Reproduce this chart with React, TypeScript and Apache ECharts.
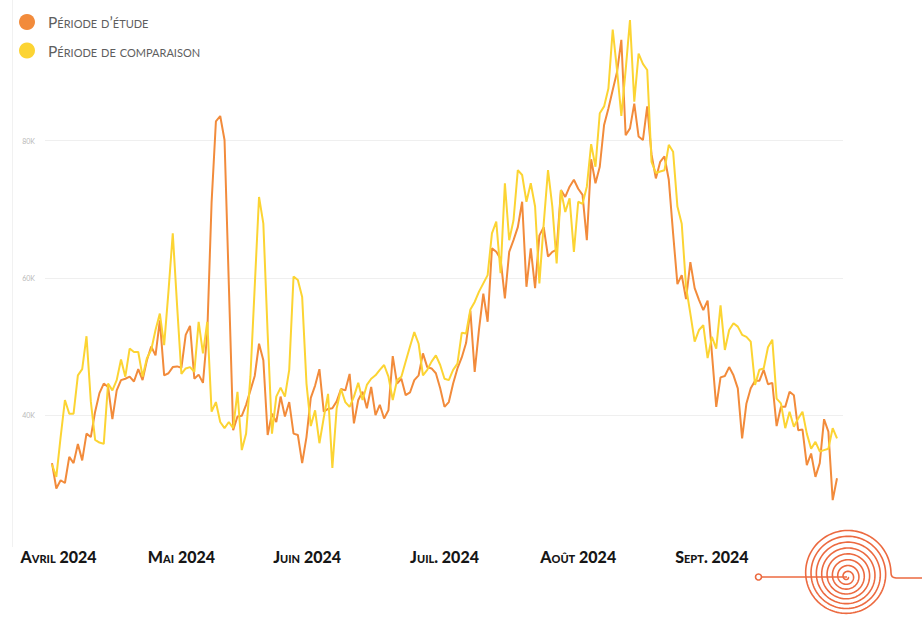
import React, { useEffect, useRef } from 'react';
import * as echarts from 'echarts';

// ---- Data (values in thousands) ----
const monthLabels = ['Avril 2024', 'Mai 2024', 'Juin 2024', 'Juil. 2024', 'Août 2024', 'Sept. 2024'];
const yTickLabels = [40, 60, 80];
const seriesNames = ['Période d’étude', 'Période de comparaison'];

const studyValues = [
  33.0, 29.3, 30.5, 30.1, 33.9, 33.0, 35.8, 33.4, 37.3, 36.8,
  40.5, 43.2, 44.6, 44.1, 39.4, 43.6, 45.1, 45.3, 45.6, 44.9,
  46.7, 45.1, 48.0, 50.0, 48.7, 53.8, 45.8, 46.1, 47.0, 47.1,
  46.9, 51.7, 53.0, 45.3, 45.9, 44.7, 52.0, 71.0, 82.8, 83.6,
  80.1, 59.0, 37.8, 39.8, 39.9, 41.5, 43.6, 45.7, 50.4, 48.0,
  37.1, 40.2, 39.0, 42.7, 39.8, 41.9, 37.3, 37.1, 33.0, 36.8,
  42.5, 44.3, 46.7, 40.5, 40.9, 41.0, 42.0, 43.8, 43.6, 46.0,
  38.8, 42.2, 43.4, 41.0, 44.1, 40.0, 41.5, 39.5, 40.7, 48.6,
  44.6, 45.3, 42.9, 43.3, 45.1, 45.8, 49.0, 47.0, 46.8, 46.1,
  43.9, 41.2, 41.9, 44.6, 46.8, 48.4, 50.5, 55.2, 46.3, 52.5,
  57.7, 53.6, 64.3, 63.8, 62.8, 57.0, 63.8, 65.5, 67.4, 71.1,
  58.7, 64.3, 58.5, 66.2, 67.4, 63.1, 63.8, 64.1, 72.8, 71.8,
  73.3, 74.3, 73.0, 72.1, 65.5, 77.3, 73.8, 76.2, 82.3, 84.7,
  87.4, 90.0, 94.7, 80.8, 81.8, 85.4, 80.6, 80.1, 85.0, 78.0,
  74.5, 76.9, 77.7, 74.3, 66.5, 59.1, 60.4, 56.9, 62.3, 58.5,
  56.8, 55.3, 56.7, 49.0, 41.2, 45.5, 45.7, 47.0, 45.8, 43.9,
  36.6, 41.7, 43.9, 45.0, 45.0, 46.6, 44.5, 44.7, 38.4, 41.2,
  41.2, 43.4, 42.9, 37.8, 37.9, 32.7, 34.4, 31.0, 33.0, 39.4,
  37.6, 27.6, 30.8,
];

const comparisonValues = [
  32.8, 31.0, 36.8, 42.2, 40.2, 40.2, 45.8, 46.7, 51.5, 42.0,
  36.4, 36.0, 35.8, 44.6, 43.6, 45.1, 48.1, 45.6, 49.7, 49.2,
  49.2, 45.6, 48.3, 49.5, 52.4, 54.8, 50.2, 58.0, 66.5, 56.0,
  46.0, 46.8, 47.0, 46.3, 53.6, 49.0, 53.6, 40.5, 41.9, 39.0,
  38.1, 39.0, 38.1, 43.4, 34.9, 37.3, 45.6, 58.7, 71.8, 67.9,
  51.9, 37.3, 42.7, 44.0, 42.7, 46.6, 60.2, 59.7, 57.2, 44.6,
  38.4, 40.7, 35.9, 39.6, 43.1, 32.3, 41.0, 43.8, 41.9, 41.2,
  42.7, 44.7, 42.2, 44.4, 45.3, 45.8, 46.6, 47.3, 45.6, 42.2,
  45.1, 45.6, 47.8, 50.0, 52.1, 50.4, 45.8, 46.6, 47.8, 48.7,
  47.3, 45.3, 45.1, 46.6, 47.5, 52.0, 51.9, 55.4, 56.5, 58.0,
  59.2, 60.4, 66.5, 68.2, 60.7, 73.8, 65.5, 68.4, 75.7, 75.0,
  71.1, 73.8, 70.4, 59.2, 67.9, 75.7, 70.4, 62.1, 72.8, 69.6,
  71.6, 63.8, 71.1, 70.8, 73.3, 79.5, 76.2, 84.0, 85.0, 87.6,
  96.2, 90.3, 83.6, 90.3, 97.6, 85.7, 92.7, 91.2, 90.3, 76.9,
  75.3, 75.5, 75.7, 79.4, 78.4, 70.4, 67.9, 58.7, 54.8, 50.7,
  52.4, 53.1, 48.3, 51.4, 49.7, 56.0, 49.5, 52.4, 53.4, 52.9,
  51.7, 51.4, 50.7, 44.4, 46.6, 46.8, 49.9, 51.0, 42.4, 41.7,
  38.1, 40.5, 38.3, 39.5, 40.5, 37.3, 35.1, 36.1, 34.7, 34.9,
  35.1, 38.1, 36.6,
];

// Daily categories from 1 April 2024
const categories: string[] = (() => {
  const out: string[] = [];
  const start = Date.UTC(2024, 3, 1);
  for (let i = 0; i < studyValues.length; i++) {
    const d = new Date(start + i * 86400000);
    const mm = String(d.getUTCMonth() + 1).padStart(2, '0');
    const dd = String(d.getUTCDate()).padStart(2, '0');
    out.push(`${d.getUTCFullYear()}-${mm}-${dd}`);
  }
  return out;
})();

const ORANGE = '#F28B3B';
const YELLOW = '#FCD433';
const SPIRAL = '#EC6A40';

const LABEL_FONT = { fontFamily: 'Lato', fontWeight: 900, fontSize: 16, color: '#161616' };

function spiralPoints(cx: number, cyStart: number, cyEnd: number, R: number, turns: number) {
  const pts: number[][] = [];
  const n = 900;
  for (let k = 0; k <= n; k++) {
    const t = k / n;
    const th = t * turns * Math.PI * 2;
    const r = 1.2 + (R - 1.2) * t;
    const cy = cyStart + (cyEnd - cyStart) * t;
    pts.push([cx + r * Math.cos(th), cy + r * Math.sin(th)]);
  }
  const last = pts[pts.length - 1];
  pts.push([last[0] + 0.3, last[1] + 2]);
  pts.push([last[0] + 1.2, last[1] + 3.6]);
  pts.push([last[0] + 2.8, last[1] + 4.6]);
  pts.push([last[0] + 5, last[1] + 5]);
  pts.push([935, last[1] + 5]);
  return pts;
}

export default function App() {
  const ref = useRef<HTMLDivElement>(null);

  useEffect(() => {
    if (!ref.current) return;
    const chart = echarts.init(ref.current, undefined, { renderer: 'svg' });
    const top = 3.5;
    const bottom = 66.7;
    chart.setOption({
      animation: false,
      backgroundColor: '#ffffff',
      legend: {
        orient: 'vertical',
        left: 19,
        top: 14,
        padding: 0,
        itemWidth: 16,
        itemHeight: 16,
        itemGap: 12.5,
        icon: 'circle',
        data: seriesNames,
        textStyle: {
          fontFamily: 'Lato',
          fontWeight: 400,
          fontSize: 15.5,
          color: '#5e5e5e',
          padding: [0, 0, 0, 8],
        },
      },
      grid: [
        { left: 45, right: 79, top, bottom },
        { left: 52, right: 85, top, bottom },
      ],
      xAxis: [
        { type: 'value', gridIndex: 0, show: false, min: 0, max: 1 },
        {
          type: 'category',
          gridIndex: 1,
          data: categories,
          boundaryGap: false,
          axisLine: { show: false },
          axisTick: { show: false },
          splitLine: { show: false },
          axisLabel: {
            interval: (_i: number, v: string) => v.endsWith('-01'),
            formatter: (v: string) => {
              const m = Number(v.slice(5, 7)) - 4;
              const txt = monthLabels[m] ?? '';
              if (m === 0) return `{first|${txt}}`;
              if (m === 2) return `{jun|${txt}}`;
              return `{n|${txt}}`;
            },
            margin: -3.5,
            ...LABEL_FONT,
            rich: {
              n: { ...LABEL_FONT },
              first: { ...LABEL_FONT, padding: [0, 0, 0, 13] },
              jun: { ...LABEL_FONT, padding: [0, 16, 0, 0] },
            },
          },
        },
      ],
      yAxis: [
        {
          type: 'value',
          gridIndex: 0,
          min: 20,
          max: 100,
          interval: 20,
          axisLine: { show: false },
          axisTick: { show: false },
          axisLabel: {
            formatter: (v: number) => (yTickLabels.includes(v) ? `${v}K` : ''),
            fontFamily: 'Lato',
            fontSize: 7,
            color: '#b8b8b8',
            margin: 10,
          },
          splitLine: {
            lineStyle: {
              color: ['rgba(0,0,0,0)', '#efefef', '#efefef', '#efefef', 'rgba(0,0,0,0)'],
              width: 1,
            },
          },
        },
        { type: 'value', gridIndex: 1, min: 20, max: 100, show: false },
      ],
      series: [
        {
          name: seriesNames[0],
          type: 'line',
          xAxisIndex: 1,
          yAxisIndex: 1,
          data: studyValues,
          symbol: 'none',
          showSymbol: false,
          lineStyle: { color: ORANGE, width: 2 },
          itemStyle: { color: ORANGE },
        },
        {
          name: seriesNames[1],
          type: 'line',
          xAxisIndex: 1,
          yAxisIndex: 1,
          data: comparisonValues,
          symbol: 'none',
          showSymbol: false,
          lineStyle: { color: YELLOW, width: 2 },
          itemStyle: { color: YELLOW },
        },
      ],
      graphic: [
        {
          type: 'line',
          silent: true,
          shape: { x1: 12.5, y1: 0, x2: 12.5, y2: 547 },
          style: { stroke: '#f1f1f1', lineWidth: 1 },
        },
        {
          type: 'line',
          silent: true,
          shape: { x1: 761.5, y1: 577, x2: 847, y2: 577 },
          style: { stroke: SPIRAL, lineWidth: 1.6 },
        },
        {
          type: 'circle',
          silent: true,
          shape: { cx: 758.5, cy: 577, r: 3 },
          style: { stroke: SPIRAL, fill: '#ffffff', lineWidth: 1.6 },
        },
        {
          type: 'polyline',
          silent: true,
          shape: { points: spiralPoints(847, 577, 573, 44, 8) },
          style: { stroke: SPIRAL, fill: null, lineWidth: 1.6 },
        },
      ],
    });
    return () => chart.dispose();
  }, []);

  return (
    <div style={{ position: 'absolute', left: 0, top: 0, width: 922, height: 619, overflow: 'hidden' }}>
      <style>{`#chart-root text { font-variant: small-caps !important; }`}</style>
      <div id="chart-root" ref={ref} style={{ width: 922, height: 619 }} />
    </div>
  );
}
